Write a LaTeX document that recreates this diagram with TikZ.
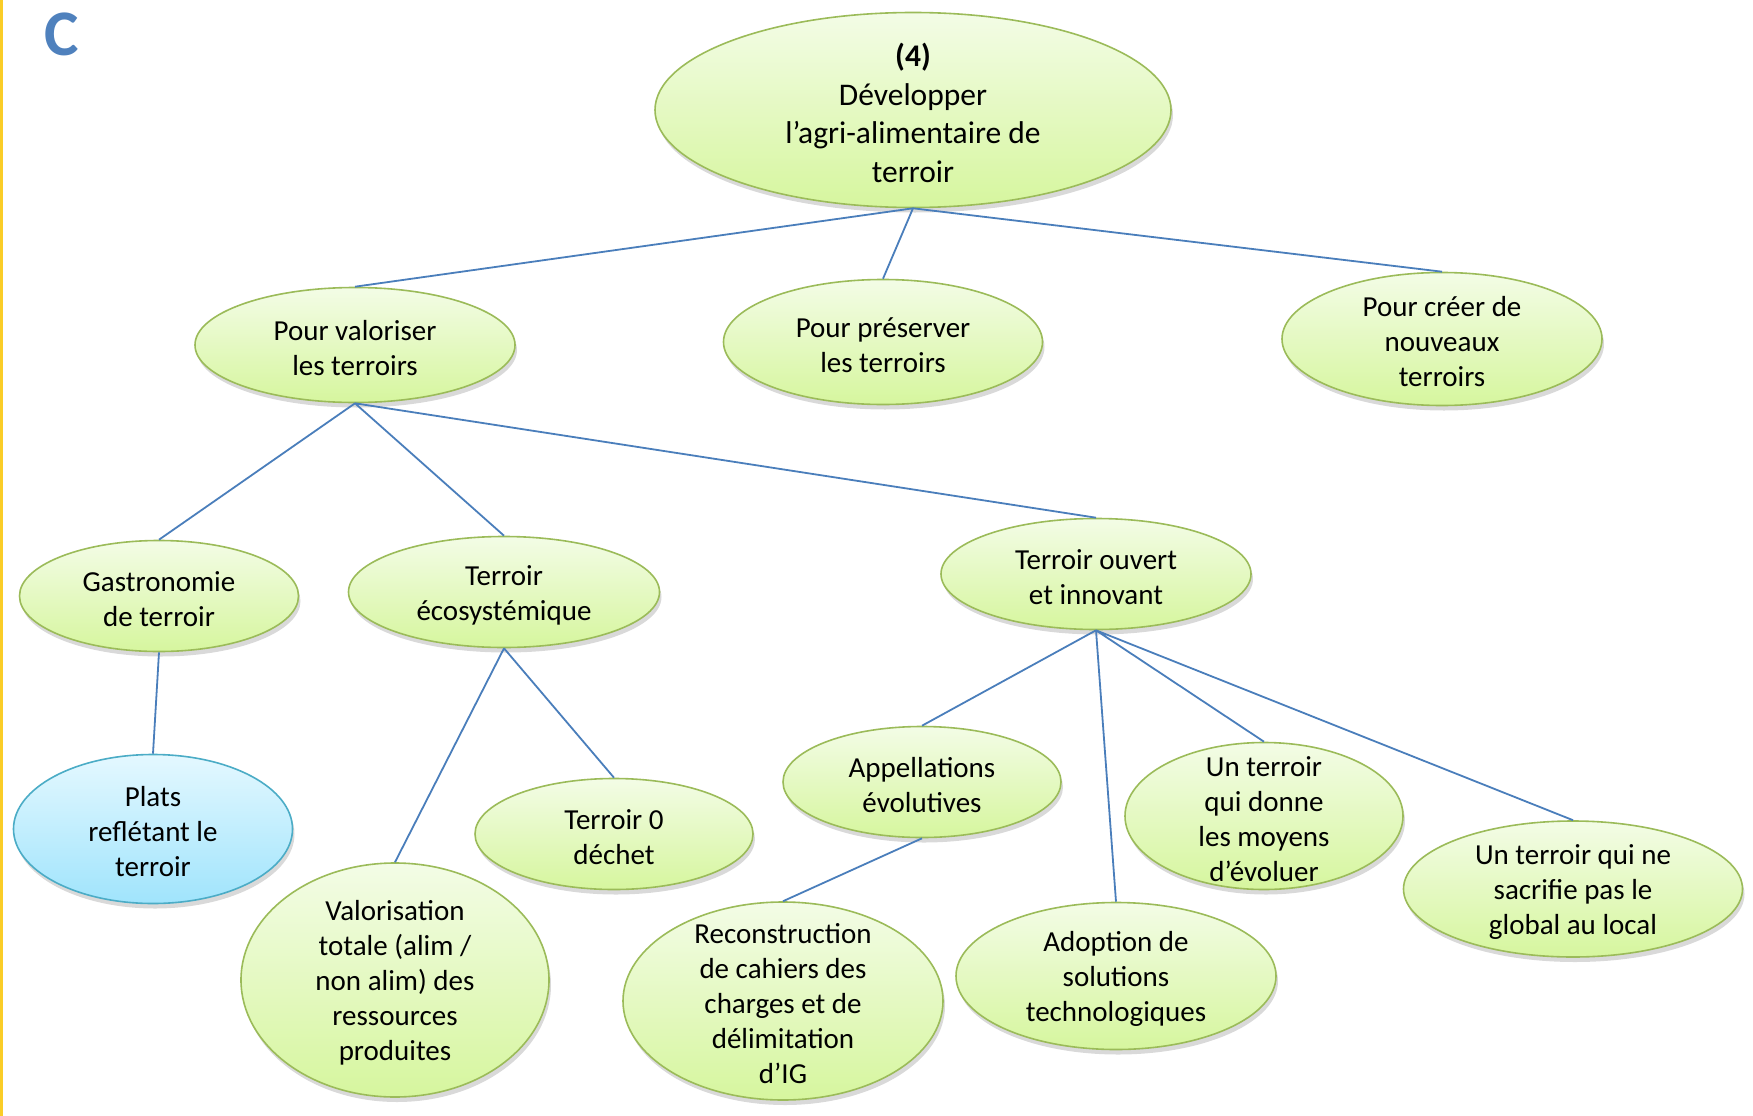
\documentclass[tikz,border=0pt]{standalone}
\usepackage{fontspec}
\setmainfont{Carlito}
\usetikzlibrary{shapes.geometric,shadows}
\definecolor{lien}{RGB}{74,126,187}
\definecolor{bord}{RGB}{155,187,89}
\definecolor{vhaut}{RGB}{243,252,230}
\definecolor{vbas}{RGB}{214,246,158}
\definecolor{bbord}{RGB}{75,172,198}
\definecolor{bhaut}{RGB}{228,248,255}
\definecolor{bbas}{RGB}{160,228,252}
\definecolor{titre}{RGB}{79,129,189}
\definecolor{jaune}{RGB}{250,205,40}
\tikzset{
  bulle/.style={ellipse, draw=bord, line width=1.6pt, top color=vhaut, bottom color=vbas, inner sep=0pt,
    drop shadow={opacity=0.3, shadow xshift=2pt, shadow yshift=-5pt}},
  bleue/.style={bulle, draw=bbord, top color=bhaut, bottom color=bbas},
  txt/.style={align=center, font=\fontsize{29}{35}\selectfont, yshift=-3pt},
  lien/.style={draw=lien, line width=1.8pt}
}

\begin{document}
\begin{tikzpicture}[x=1pt,y=-1pt]
\useasboundingbox (0,0) rectangle (1753,1116);
\draw[jaune, line width=3pt] (1.5,0) -- (1.5,1116);
\node[font=\fontsize{65}{65}\selectfont\bfseries, text=titre] (lettre) at (62,34) {C};

\node[bulle, minimum width=516, minimum height=195, label={[txt, font=\fontsize{31.5}{38.5}\selectfont]center:\textbf{(4)}\\Développer\\l’agri-alimentaire de\\terroir}] (racine) at (913,110) {};

\node[bulle, minimum width=320, minimum height=115, label={[txt]center:Pour valoriser\\les terroirs}] (valor) at (355,345) {};
\node[bulle, minimum width=319, minimum height=125, label={[txt]center:Pour préserver\\les terroirs}] (preserv) at (883,342) {};
\node[bulle, minimum width=320, minimum height=133, label={[txt]center:Pour créer de\\nouveaux\\terroirs}] (creer) at (1442,339) {};

\node[bulle, minimum width=279, minimum height=111, label={[txt]center:Gastronomie\\de terroir}] (gastro) at (159,596) {};
\node[bulle, minimum width=311, minimum height=111, label={[txt]center:Terroir\\écosystémique}] (ecosys) at (504,592) {};
\node[bulle, minimum width=310, minimum height=111, label={[txt]center:Terroir ouvert\\et innovant}] (ouvert) at (1096,574) {};

\node[bleue, minimum width=279, minimum height=149, label={[txt]center:Plats\\reflétant le\\terroir}] (plats) at (153,829) {};
\node[bulle, minimum width=308, minimum height=234, label={[txt]center:Valorisation\\totale (alim /\\non alim) des\\ressources\\produites}] (valtot) at (395,980) {};
\node[bulle, minimum width=278, minimum height=111, label={[txt]center:Terroir 0\\déchet}] (dechet) at (614,834) {};

\node[bulle, minimum width=278, minimum height=111, label={[txt]center:Appellations\\évolutives}] (appel) at (922,782) {};
\node[bulle, minimum width=320, minimum height=198, label={[txt]center:Reconstruction\\de cahiers des\\charges et de\\délimitation\\d’IG}] (recons) at (783,1001) {};
\node[bulle, minimum width=320, minimum height=147, label={[txt]center:Adoption de\\solutions\\technologiques}] (adopt) at (1116,976) {};
\node[bulle, minimum width=278, minimum height=147, label={[txt]center:Un terroir\\qui donne\\les moyens\\d’évoluer}] (moyens) at (1264,816) {};
\node[bulle, minimum width=339, minimum height=136, label={[txt]center:Un terroir qui ne\\sacrifie pas le\\global au local}] (global) at (1573,889) {};

\draw[lien] (racine.south) -- (valor.north) (racine.south) -- (preserv.north) (racine.south) -- (creer.north);
\draw[lien] (valor.south) -- (gastro.north) (valor.south) -- (ecosys.north) (valor.south) -- (ouvert.north);
\draw[lien] (gastro.south) -- (plats.north);
\draw[lien] (ecosys.south) -- (valtot.north) (ecosys.south) -- (dechet.north);
\draw[lien] (ouvert.south) -- (appel.north) (ouvert.south) -- (adopt.north) (ouvert.south) -- (moyens.north) (ouvert.south) -- (global.north);
\draw[lien] (appel.south) -- (recons.north);
\end{tikzpicture}
\end{document}
